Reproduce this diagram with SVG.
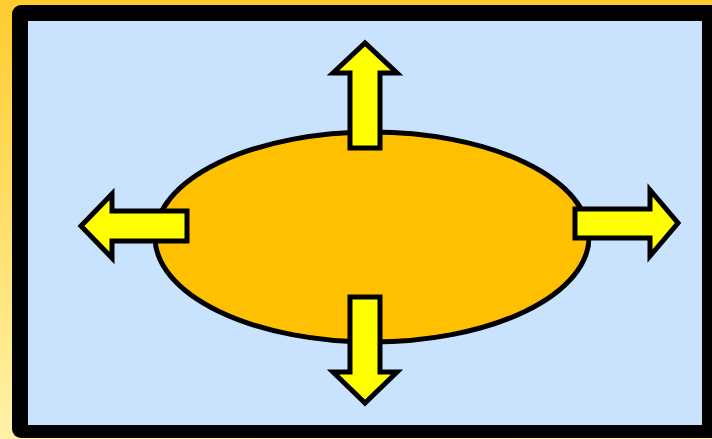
<svg xmlns="http://www.w3.org/2000/svg" width="712" height="439" viewBox="0 0 712 439">
<defs>
<linearGradient id="bg" x1="0" y1="0" x2="0" y2="1">
<stop offset="0" stop-color="#FFCC2E"/>
<stop offset="1" stop-color="#FFF2A8"/>
</linearGradient>
</defs>
<style>
.arrow{fill:#FFFF00;stroke:#000;stroke-width:5;stroke-linejoin:miter}
</style>
<rect x="0" y="0" width="712" height="439" fill="url(#bg)"/>
<rect x="12" y="5" width="712" height="433" rx="9" fill="#000"/>
<rect x="28" y="21" width="674" height="404" fill="#C9E3FF"/>
<g id="center">
<ellipse cx="372" cy="237" rx="217" ry="105" fill="#FFC000" stroke="#000" stroke-width="5"/>
</g>
<g id="arrows">
<polygon id="up" class="arrow" points="350,148 350,73 333,73 365,43 397,73 380,73 380,148"/>
<polygon id="left" class="arrow" points="187,211 112,211 112,194 81,226 112,258 112,241 187,241"/>
<polygon id="right" class="arrow" points="575,209 650,209 650,190 678,223 650,256 650,238 575,238"/>
<polygon id="down" class="arrow" points="350,297 350,372 333,372 365,403 397,372 380,372 380,297"/>
</g>
</svg>
